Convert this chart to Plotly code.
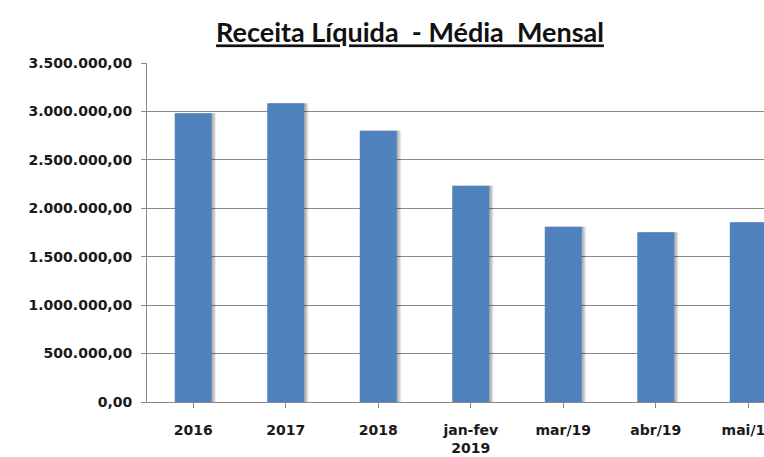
import plotly.graph_objects as go

categories = ["2016", "2017", "2018", "jan-fev<br>2019", "mar/19", "abr/19", "mai/19"]
receita = [2980000, 3085000, 2800000, 2233000, 1810000, 1752000, 1855000]
title_text = "Receita Líquida  - Média  Mensal"

BAR = "#4F81BD"
GRID = "#8A8A8A"
xs = list(range(len(categories)))

W, H = 764, 457

fig = go.Figure()
for dx, alpha in [(0.05, 0.05), (0.04, 0.07), (0.03, 0.09), (0.02, 0.10)]:
    fig.add_trace(go.Bar(x=xs, y=receita, width=0.4, offset=-0.2 + dx,
                         marker=dict(color=f"rgba(0,0,0,{alpha})", line=dict(width=0)),
                         hoverinfo="skip", showlegend=False))
fig.add_trace(go.Bar(x=xs, y=receita, width=0.4, offset=-0.2,
                     marker=dict(color=BAR, line=dict(width=0)), showlegend=False))

fig.update_layout(
    width=W, height=H,
    margin=dict(l=147, r=0, t=63, b=55),
    paper_bgcolor="white", plot_bgcolor="white",
    barmode="overlay",
    separators=",.",
    title=dict(text="<u>" + title_text + "</u>", xref="container", yref="container",
               x=410 / W, xanchor="center", y=1 - 33 / H, yanchor="middle",
               font=dict(family="Lato, 'Open Sans', sans-serif", size=27, color="#111111", weight="bold")),
    font=dict(family="'DejaVu Sans', Tahoma, sans-serif", color="#1a1a1a"),
)
fig.update_xaxes(
    tickmode="array", tickvals=xs, ticktext=categories,
    range=[-0.5, 6.17], showgrid=False, zeroline=False, automargin=False,
    showline=True, linecolor=GRID, linewidth=1,
    ticks="outside", tickson="boundaries", ticklen=5, tickcolor=GRID,
    tickfont=dict(size=14, weight="bold"), ticklabelstandoff=10,
    ticklabeloverflow="allow",
)
fig.update_yaxes(
    range=[0, 3500000], tickvals=[0, 500000, 1000000, 1500000, 2000000, 2500000, 3000000, 3500000],
    tickformat=",.2f", showgrid=True, gridcolor=GRID, gridwidth=1, zeroline=False, automargin=False,
    showline=True, linecolor=GRID, linewidth=1,
    ticks="outside", ticklen=5, tickcolor=GRID,
    tickfont=dict(size=14, weight="bold"), ticklabelstandoff=6,
)
fig.write_html(
    "out.html",
    config={"displayModeBar": False},
    post_script="document.body.style.margin='0';document.body.style.padding='0';"
                "document.body.style.overflow='hidden';document.documentElement.style.overflow='hidden';",
)
